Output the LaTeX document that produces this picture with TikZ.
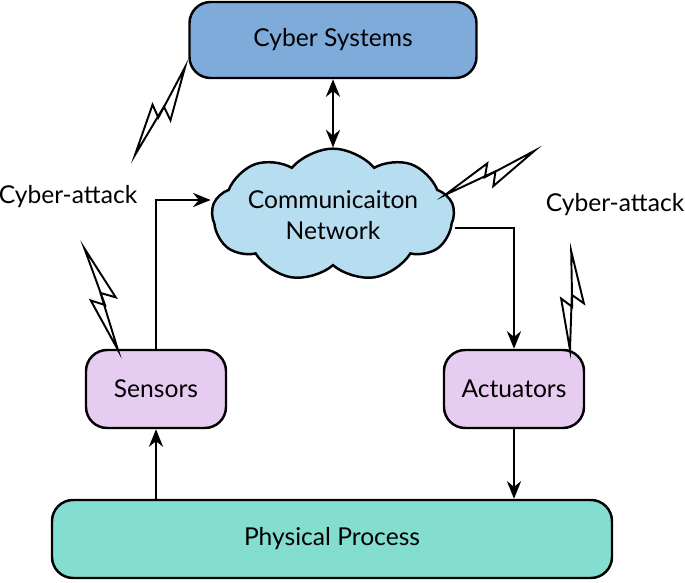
\documentclass[tikz,border=0pt]{standalone}
\usepackage{fontspec}
\setmainfont{Lato}
\usetikzlibrary{shapes.symbols,arrows.meta}
\definecolor{cyberblue}{HTML}{7FABDB}
\definecolor{cloudblue}{HTML}{B7DDF1}
\definecolor{lavender}{HTML}{E6CCF1}
\definecolor{mint}{HTML}{84DECF}
\tikzset{
  box/.style={draw=black,line width=1.4pt,rounded corners=12pt,font=\fontsize{14}{17}\selectfont},
  flow/.style={line width=1.6pt,-{Stealth[length=10pt,width=8pt]}},
  bolt/.pic={\draw[line width=1.1pt,fill=white] (0,0) -- (0.5,0.2) -- (0.44,0.07) -- (1,0.2)
     -- (0.5,-0.04) -- (0.56,0.1) -- cycle;}
}
\begin{document}
\begin{tikzpicture}
	\useasboundingbox (0,0) rectangle (13.7,11.66);
	\node[box,fill=cyberblue,minimum width=5.74cm,minimum height=1.52cm] (cyber) at (6.66,10.86) {Cyber Systems};
	\node[box,fill=lavender,minimum width=2.8cm,minimum height=1.56cm] (sens) at (3.12,3.88) {Sensors};
	\node[box,fill=lavender,minimum width=2.8cm,minimum height=1.56cm] (act) at (10.28,3.88) {Actuators};
	\node[box,fill=mint,minimum width=11.2cm,minimum height=1.56cm] (phys) at (6.64,0.88) {Physical Process};
	\node[draw=black,line width=1.4pt,fill=cloudblue,cloud,cloud puffs=9,cloud puff arc=100,aspect=2.4,
	      inner sep=0pt,minimum width=4.4cm,minimum height=2cm,align=center,font=\fontsize{14}{18}\selectfont]
	      (net) at (6.66,7.36) {Communicaiton\\Network};
	\node[font=\fontsize{14}{17}\selectfont] (atk1) at (1.36,7.72) {Cyber-attack};
	\node[font=\fontsize{14}{17}\selectfont] (atk2) at (12.3,7.56) {Cyber-attack};
	\coordinate (sup) at (3.12,7.66);
	\coordinate (aup) at (10.28,7.1);
	\draw[line width=1.6pt,{Stealth[length=10pt,width=8pt]}-{Stealth[length=10pt,width=8pt]}] (cyber.south) -- (net.north -| cyber);
	\draw[flow] (sens.north) -- (sup) -- (sup -| net.west);
	\draw[flow] (aup -| net.east) -- (aup) -- (act.north);
	\draw[flow] (phys.north -| sens) -- (sens.south);
	\draw[flow] (act.south) -- (phys.north -| act);
	\pic[rotate=49,scale=1.98] at (2.7,8.56) {bolt};
	\pic[rotate=15,scale=1.96] at (8.9,7.76) {bolt};
	\pic[rotate=97,scale=2.1] at (2.36,4.66) {bolt};
	\pic[rotate=78,scale=1.94] at (11.4,4.66) {bolt};
\end{tikzpicture}
\end{document}
